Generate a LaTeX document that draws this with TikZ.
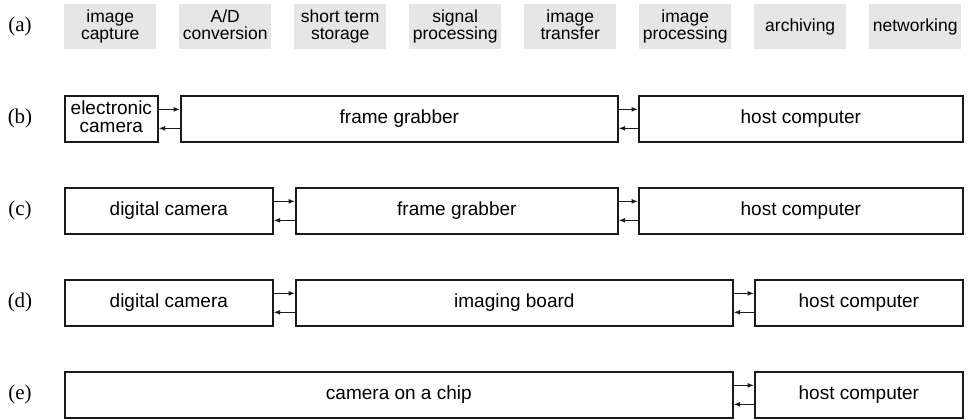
\documentclass[tikz,border=0pt]{standalone}
\usepackage{fontspec}
\setmainfont{Liberation Serif}
\setsansfont{Liberation Sans}
\usetikzlibrary{positioning, arrows.meta}
\definecolor{taskgray}{HTML}{E6E6E6}
\definecolor{boxline}{HTML}{1A1A1A}
\newcommand{\topgap}{\rule{0pt}{13.5pt}}
\newcommand{\botgap}{\rule[-4.4pt]{0pt}{0pt}}

\begin{document}
\begin{tikzpicture}[x=1pt, y=-1pt,
    task/.style={fill=taskgray, minimum width=92pt, minimum height=45pt, inner sep=0pt,
      anchor=north west, align=center, font=\sffamily\fontsize{17.5}{17}\selectfont},
    unit/.style={draw=boxline, line width=1.7pt, minimum height=46pt, inner sep=0pt,
      anchor=north west, align=center, font=\sffamily\fontsize{19}{18}\selectfont},
    link/.style={draw=boxline, line width=1.1pt, -{Latex[length=6.5pt,width=5pt]}},
    rowlabel/.style={font=\fontsize{21}{21}\selectfont}]
  \useasboundingbox (0,0) rectangle (969,420);

  % (a) tasks
  \node[rowlabel] (la) at (20,26) {(a)};
  \foreach \txt [count=\i from 0] in {{image\\capture}, {A/D\\conversion}, {short term\\storage},
      {signal\\processing}, {image\\transfer}, {image\\processing}, archiving, networking}
    \node[task] (task\i) at (64+\i*115,4) {\topgap\txt\botgap};

  % (b)
  \node[rowlabel] (lb) at (20,118) {(b)};
  \node[unit, minimum width=93pt] (b1) at (64,95) {\topgap electronic\\camera\botgap};
  \node[unit, minimum width=437pt] (b2) at (180,95) {frame grabber};
  \node[unit, minimum width=324pt] (b3) at (638,95) {host computer};
  \draw[link] ([yshift=9.5pt]b1.east) -- ([yshift=9.5pt]b2.west);
  \draw[link] ([yshift=-9.5pt]b2.west) -- ([yshift=-9.5pt]b1.east);
  \draw[link] ([yshift=9.5pt]b2.east) -- ([yshift=9.5pt]b3.west);
  \draw[link] ([yshift=-9.5pt]b3.west) -- ([yshift=-9.5pt]b2.east);

  % (c)
  \node[rowlabel] (lc) at (20,210) {(c)};
  \node[unit, minimum width=208pt] (c1) at (64,187) {digital camera};
  \node[unit, minimum width=322pt] (c2) at (295,187) {frame grabber};
  \node[unit, minimum width=324pt] (c3) at (638,187) {host computer};
  \draw[link] ([yshift=9.5pt]c1.east) -- ([yshift=9.5pt]c2.west);
  \draw[link] ([yshift=-9.5pt]c2.west) -- ([yshift=-9.5pt]c1.east);
  \draw[link] ([yshift=9.5pt]c2.east) -- ([yshift=9.5pt]c3.west);
  \draw[link] ([yshift=-9.5pt]c3.west) -- ([yshift=-9.5pt]c2.east);

  % (d)
  \node[rowlabel] (ld) at (20,302) {(d)};
  \node[unit, minimum width=208pt] (d1) at (64,279) {digital camera};
  \node[unit, minimum width=437pt] (d2) at (295,279) {imaging board};
  \node[unit, minimum width=208pt] (d3) at (754,279) {host computer};
  \draw[link] ([yshift=9.5pt]d1.east) -- ([yshift=9.5pt]d2.west);
  \draw[link] ([yshift=-9.5pt]d2.west) -- ([yshift=-9.5pt]d1.east);
  \draw[link] ([yshift=9.5pt]d2.east) -- ([yshift=9.5pt]d3.west);
  \draw[link] ([yshift=-9.5pt]d3.west) -- ([yshift=-9.5pt]d2.east);

  % (e)
  \node[rowlabel] (le) at (20,394) {(e)};
  \node[unit, minimum width=668pt] (e1) at (64,371) {camera on a chip};
  \node[unit, minimum width=208pt] (e2) at (754,371) {host computer};
  \draw[link] ([yshift=9.5pt]e1.east) -- ([yshift=9.5pt]e2.west);
  \draw[link] ([yshift=-9.5pt]e2.west) -- ([yshift=-9.5pt]e1.east);
\end{tikzpicture}
\end{document}
